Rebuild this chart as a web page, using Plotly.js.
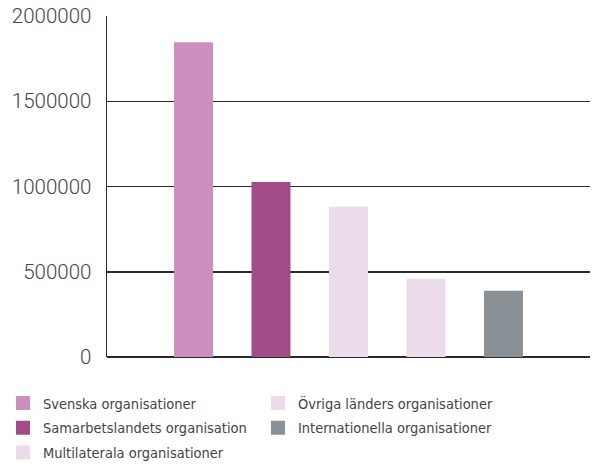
<!DOCTYPE html>
<html><head><meta charset="utf-8">
<script src="https://cdn.plot.ly/plotly-3.0.1.min.js"></script>
<style>html,body{margin:0;padding:0;background:#fff}#chart{width:594px;height:464px}</style>
</head><body><div id="chart"></div>
<script>
const categories = ["Svenska organisationer","Samarbetslandets organisation","Multilaterala organisationer","Övriga länders organisationer","Internationella organisationer"];
const values = [1840000, 1020000, 875000, 452000, 382000];
const colors = ["#cd8ec0","#a24b89","#ecdbe9","#ecdbe9","#8a9196"];
const legendOf = ["legend","legend","legend","legend2","legend2"];
const yTicks = [0, 500000, 1000000, 1500000, 2000000];

const traces = categories.map((c, i) => ({
  type: "bar",
  name: c,
  x: [i],
  y: [values[i]],
  width: 0.477,
  marker: {color: colors[i], line: {color: colors[i], width: 2}},
  legend: legendOf[i],
  legendgroup: "g" + i,
  hoverinfo: "skip"
}));

const tickFam = "Roboto, 'DejaVu Sans Condensed', sans-serif";
const legFam = "'DejaVu Sans Condensed', 'DejaVu Sans', sans-serif";
const legendCommon = {
  orientation: "v", xanchor: "left", yanchor: "top",
  xref: "container", yref: "container",
  font: {family: legFam, size: 14.5, color: "#444"},
  tracegroupgap: 3, itemwidth: 30, bgcolor: "rgba(0,0,0,0)"
};

const layout = {
  width: 594, height: 464,
  margin: {l: 107, r: 4, t: 16, b: 107, pad: 0, autoexpand: false},
  paper_bgcolor: "#fff", plot_bgcolor: "#fff",
  barmode: "overlay",
  showlegend: true,
  xaxis: {
    range: [-1.116, 5.116], showgrid: false, zeroline: false,
    showline: false, tickmode: "array", tickvals: [5.116], ticktext: [""],
    ticks: "inside", ticklen: 8, tickwidth: 1.5, tickcolor: "#2a2a2a", fixedrange: true
  },
  yaxis: {
    range: [0, 2000000], tickmode: "array", tickvals: yTicks,
    ticktext: yTicks.map(String),
    showgrid: true, gridcolor: "#2a2a2a", gridwidth: 1.5,
    zeroline: true, zerolinecolor: "#2a2a2a", zerolinewidth: 1.5,
    showline: true, linecolor: "#2a2a2a", linewidth: 1.5,
    ticks: "", ticklabelstandoff: 10,
    tickfont: {family: tickFam, size: 20.5, color: "#444", weight: 300}, fixedrange: true
  },
  legend: Object.assign({}, legendCommon, {x: 0.005, y: 0.166}),
  legend2: Object.assign({}, legendCommon, {x: 0.4343, y: 0.166})
};

Plotly.newPlot("chart", traces, layout, {displayModeBar: false, staticPlot: true});
</script></body></html>
